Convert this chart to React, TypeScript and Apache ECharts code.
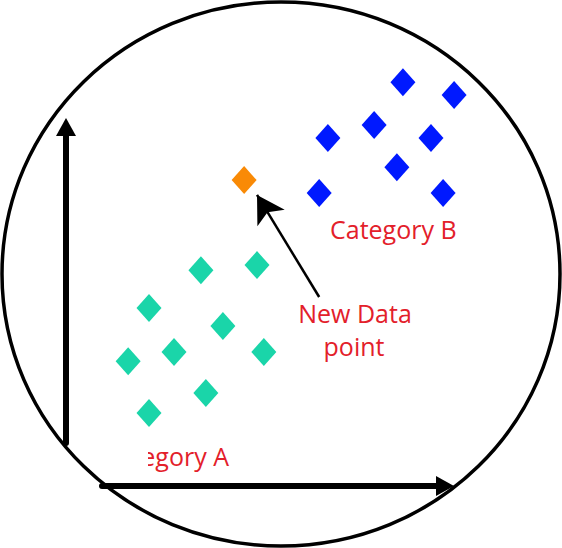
import React, { useEffect, useRef } from "react";
import * as echarts from "echarts";

// Data values (axis units 0..10 on both axes)
const categoryA: number[][] = [
  [3.56, 5.47],
  [5.04, 5.63],
  [2.19, 4.27],
  [4.14, 3.70],
  [1.64, 2.59],
  [2.85, 2.88],
  [5.22, 2.88],
  [3.69, 1.58],
  [2.19, 0.95],
];
const categoryB: number[][] = [
  [8.89, 11.42],
  [10.24, 11.01],
  [8.13, 10.06],
  [6.91, 9.65],
  [9.63, 9.65],
  [8.73, 8.73],
  [6.68, 7.91],
  [9.95, 7.91],
];
const newPoint: number[][] = [[4.70, 8.32]];
const arrowFrom: number[] = [6.68, 4.62];
const arrowTo: number[] = [5.04, 7.85];

const labelA = "Category A";
const labelB = "Category B";
const labelNew1 = "New Data";
const labelNew2 = "point";

const RED = "#e3202a";
const FONT = "'Open Sans', 'Noto Sans', sans-serif";

export default function App() {
  const ref = useRef<HTMLDivElement>(null);
  useEffect(() => {
    if (!ref.current) return;
    const chart = echarts.init(ref.current, undefined, { renderer: "svg" });
    const axisLineStyle = { color: "#000", width: 6 };
    const option: any = {
      animation: false,
      backgroundColor: "#ffffff",
      grid: [
        { left: 66, top: 127, width: 379, height: 316 },
        { left: 102, top: 485, width: 343, height: 1 },
      ],
      xAxis: [
        { gridIndex: 0, type: "value", min: 0, max: 10, show: false },
        {
          gridIndex: 1,
          type: "value",
          min: 0,
          max: 10,
          axisLine: {
            show: true,
            onZero: false,
            symbol: ["none", "triangle"],
            symbolSize: [20, 18],
            lineStyle: axisLineStyle,
          },
          axisTick: { show: false },
          axisLabel: { show: false },
          splitLine: { show: false },
        },
      ],
      yAxis: [
        {
          gridIndex: 0,
          type: "value",
          min: 0,
          max: 10,
          axisLine: {
            show: true,
            onZero: false,
            symbol: ["none", "triangle"],
            symbolSize: [20, 18],
            lineStyle: axisLineStyle,
          },
          axisTick: { show: false },
          axisLabel: { show: false },
          splitLine: { show: false },
        },
        { gridIndex: 1, type: "value", min: 0, max: 1, show: false },
      ],
      series: [
        {
          name: labelA,
          type: "scatter",
          xAxisIndex: 0,
          yAxisIndex: 0,
          clip: false,
          symbol: "diamond",
          symbolSize: [25, 28],
          itemStyle: { color: "#1ad5a9", opacity: 1 },
          data: categoryA,
        },
        {
          name: labelB,
          type: "scatter",
          xAxisIndex: 0,
          yAxisIndex: 0,
          clip: false,
          symbol: "diamond",
          symbolSize: [25, 28],
          itemStyle: { color: "#0019ff", opacity: 1 },
          data: categoryB,
        },
        {
          name: "New Data point",
          type: "scatter",
          xAxisIndex: 0,
          yAxisIndex: 0,
          clip: false,
          symbol: "diamond",
          symbolSize: [25, 28],
          itemStyle: { color: "#f98a06", opacity: 1 },
          data: newPoint,
          markLine: {
            silent: true,
            animation: false,
            label: { show: false },
            lineStyle: { color: "#000", width: 2.5, type: "solid" },
            data: [
              [
                { coord: arrowFrom, symbol: "none" },
                { coord: arrowTo, symbol: "arrow", symbolSize: [24, 27] },
              ],
            ],
          },
        },
      ],
      graphic: [
        {
          type: "text",
          z: 100,
          x: 330,
          y: 229,
          style: {
            text: labelB,
            fill: RED,
            font: `25px ${FONT}`,
            textAlign: "left",
            textVerticalAlign: "middle",
          },
        },
        {
          type: "text",
          z: 100,
          x: 355,
          y: 313,
          style: {
            text: labelNew1,
            fill: RED,
            font: `25px ${FONT}`,
            textAlign: "center",
            textVerticalAlign: "middle",
          },
        },
        {
          type: "text",
          z: 100,
          x: 354,
          y: 346,
          style: {
            text: labelNew2,
            fill: RED,
            font: `25px ${FONT}`,
            textAlign: "center",
            textVerticalAlign: "middle",
          },
        },
        {
          type: "text",
          z: 100,
          x: 229,
          y: 456,
          style: {
            text: labelA,
            fill: RED,
            font: `25px ${FONT}`,
            textAlign: "right",
            textVerticalAlign: "middle",
          },
        },
        {
          type: "rect",
          z: 110,
          shape: { x: 78, y: 440, width: 70, height: 38 },
          style: { fill: "#ffffff" },
        },
        {
          type: "ellipse",
          z: 120,
          shape: { cx: 281, cy: 274, rx: 279, ry: 272 },
          style: { fill: "none", stroke: "#000", lineWidth: 3.5 },
        },
      ],
    };
    chart.setOption(option);
    return () => chart.dispose();
  }, []);
  return (
    <div
      ref={ref}
      style={{ position: "fixed", left: 0, top: 0, width: 562, height: 548, background: "#fff" }}
    />
  );
}
